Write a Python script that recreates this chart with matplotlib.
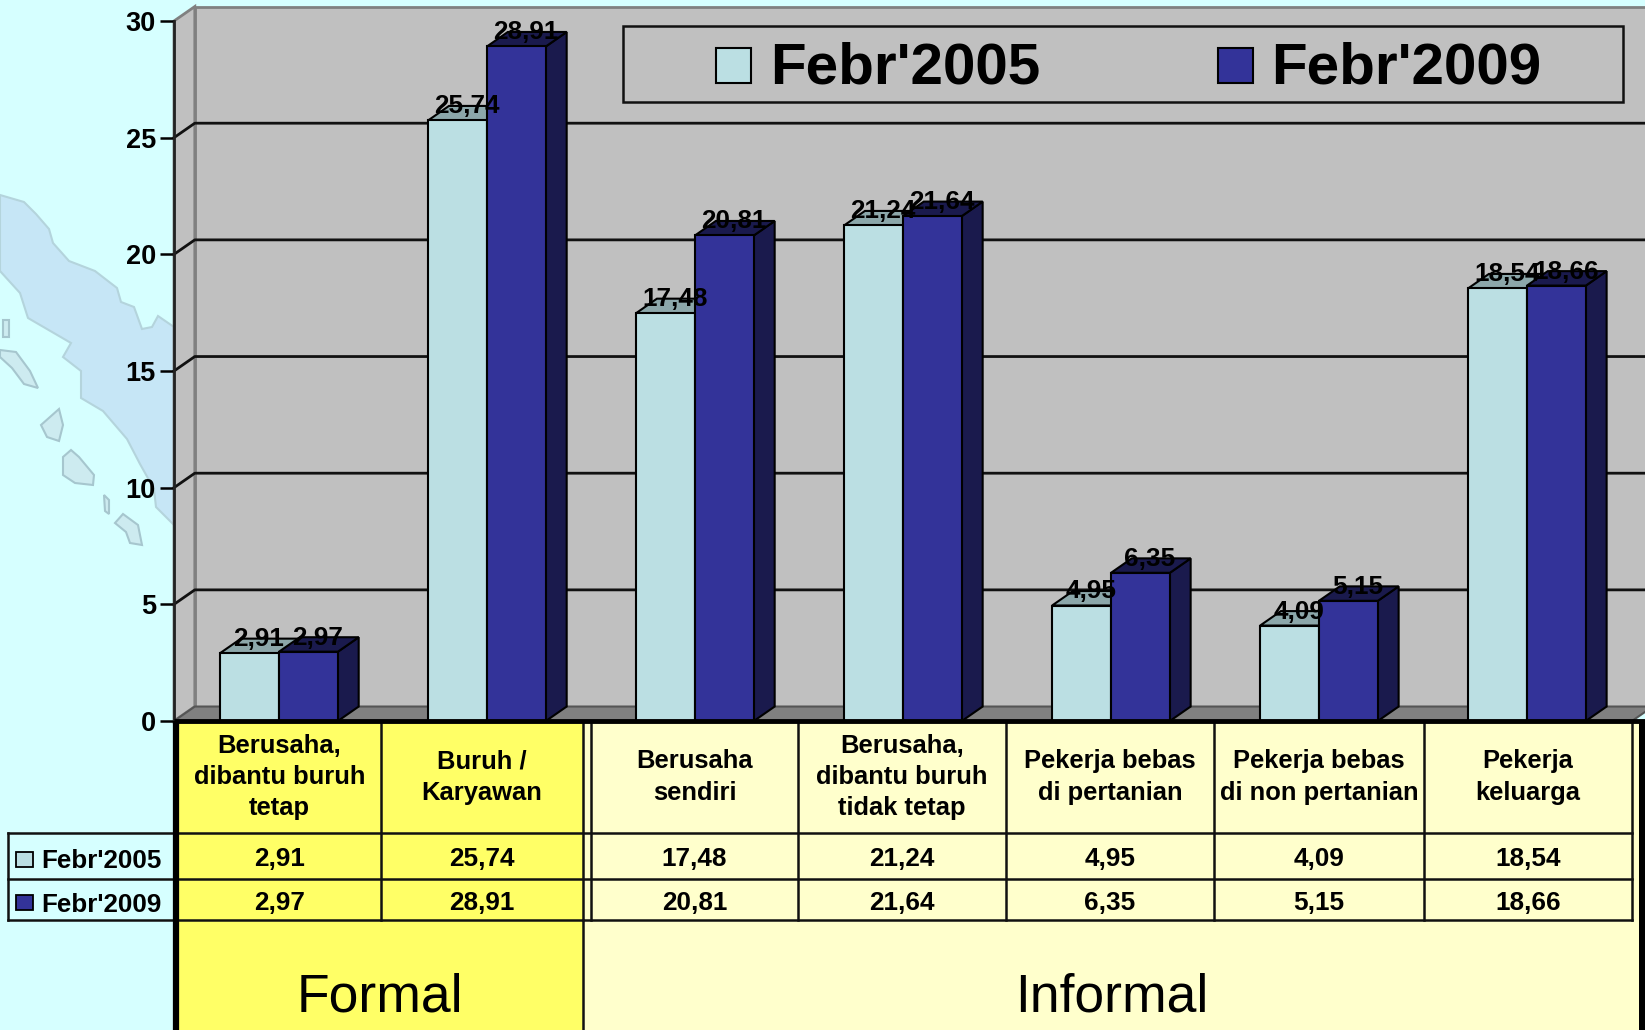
import matplotlib
matplotlib.use('Agg')
from matplotlib import pyplot as plt
from matplotlib.patches import Polygon, Rectangle

plt.rcParams['font.family'] = ['Liberation Sans', 'DejaVu Sans']

W, H = 1645, 1030

categories = ['Berusaha,\ndibantu buruh\ntetap', 'Buruh /\nKaryawan', 'Berusaha\nsendiri',
              'Berusaha,\ndibantu buruh\ntidak tetap', 'Pekerja bebas\ndi pertanian',
              'Pekerja bebas\ndi non pertanian', 'Pekerja\nkeluarga']
feb2005 = [2.91, 25.74, 17.48, 21.24, 4.95, 4.09, 18.54]
feb2009 = [2.97, 28.91, 20.81, 21.64, 6.35, 5.15, 18.66]
labels_2005 = ['2,91', '25,74', '17,48', '21,24', '4,95', '4,09', '18,54']
labels_2009 = ['2,97', '28,91', '20,81', '21,64', '6,35', '5,15', '18,66']
series_names = ["Febr'2005", "Febr'2009"]
yticks = [0, 5, 10, 15, 20, 25, 30]

# map shapes behind the chart, in pixels
sumatra = [(0, 195), (24, 202), (36, 214), (49, 229), (53, 243), (69, 261), (95, 271), (117, 288),
           (121, 302), (134, 307), (142, 329), (152, 327), (158, 316), (174, 327), (174, 525),
           (156, 507), (154, 489), (140, 464), (127, 439), (103, 411), (81, 398), (81, 371),
           (63, 357), (71, 343), (28, 318), (20, 293), (0, 271)]
islands = [[(3, 320), (9, 320), (9, 337), (3, 337)],
           [(0, 350), (16, 352), (30, 371), (38, 388), (24, 384), (12, 368), (0, 357)],
           [(59, 409), (63, 425), (59, 441), (47, 437), (41, 425)],
           [(71, 450), (79, 457), (94, 475), (93, 485), (75, 483), (63, 475), (63, 457)],
           [(104, 495), (109, 500), (109, 514), (105, 511)],
           [(123, 514), (138, 525), (142, 545), (130, 543), (126, 532), (115, 523)]]

C_BG = '#D6FFFF'
C_WALL = '#C0C0C0'
C_FLOOR = '#808080'
C_LIGHT = '#BBDFE3'
C_LIGHT_TOP = '#8CA7AA'
C_DARK = '#333399'
C_DARK_SIDE = '#1A1A4D'
C_YELLOW = '#FFFF66'
C_IVORY = '#FFFFCC'

fig = plt.figure(figsize=(W / 100, H / 100), dpi=100, facecolor=C_BG)


def pixel_axes(z):
    a = fig.add_axes([0, 0, 1, 1], zorder=z)
    a.set_xlim(0, W)
    a.set_ylim(H, 0)
    a.axis('off')
    return a


# background map
bg = pixel_axes(0)
bg.add_patch(Polygon(sumatra, fc='#C6E6F6', ec='#B4D4DC', lw=1.5))
for isl in islands:
    bg.add_patch(Polygon(isl, fc='#CDEBF0', ec='#A6C6CE', lw=1.5))

# chart area: x runs over categories, y over percent
x_left, x_right, y_top, y_bottom = 174, 1632, 21, 721
ax = fig.add_axes([x_left / W, 1 - y_bottom / H, (x_right - x_left) / W, (y_bottom - y_top) / H], zorder=1)
ax.patch.set_alpha(0)
ax.set_xlim(-0.505, 6.505)
ax.set_ylim(0, 30)
dx, dy = 0.1, 0.62
x0, x1 = ax.get_xlim()

# back wall, side wall and floor
ax.add_patch(Polygon([(x0 + dx, dy), (x0 + dx, 30 + dy), (x1 + 0.2, 30 + dy), (x1 + 0.2, dy)],
                     fc=C_WALL, ec='#808080', lw=2, clip_on=False, zorder=1))
ax.add_patch(Polygon([(x0, 0), (x0, 30), (x0 + dx, 30 + dy), (x0 + dx, dy)],
                     fc=C_WALL, ec='#808080', lw=2, clip_on=False, zorder=1))
ax.add_patch(Polygon([(x0, 0), (x0 + dx, dy), (x1 + dx, dy), (x1, 0)],
                     fc=C_FLOOR, ec='#555555', lw=1.5, clip_on=False, zorder=1.5))
for v in yticks[1:-1]:
    ax.plot([x0, x0 + dx, x1 + 0.2], [v, v + dy, v + dy], color='#111111', lw=2, clip_on=False, zorder=2)

bar_w = 0.283
for i in range(len(categories)):
    for offset, v, front, top, side in [(-bar_w / 2, feb2005[i], C_LIGHT, C_LIGHT_TOP, C_LIGHT_TOP),
                                        (bar_w / 2, feb2009[i], C_DARK, C_DARK_SIDE, C_DARK_SIDE)]:
        xc = i + offset
        xl, xr = xc - bar_w / 2, xc + bar_w / 2
        ax.add_patch(Polygon([(xr, 0), (xr, v), (xr + dx, v + dy), (xr + dx, dy)],
                             fc=side, ec='black', lw=1.5, zorder=3, clip_on=False))
        ax.add_patch(Polygon([(xl, v), (xl + dx, v + dy), (xr + dx, v + dy), (xr, v)],
                             fc=top, ec='black', lw=1.5, zorder=3, clip_on=False))
        ax.bar(xc, v, bar_w, color=front, edgecolor='black', lw=1.5, zorder=3)

# value labels sit on the top face of each bar
for i in range(len(categories)):
    for offset, v, s in [(-bar_w / 2, feb2005[i], labels_2005[i]), (bar_w / 2, feb2009[i], labels_2009[i])]:
        ax.text(i + offset + dx / 2 - 0.005, v + dy - 0.02, s, ha='center', va='center', fontsize=18.8,
                fontweight='bold', color='black', zorder=5, clip_on=False)

ax.set_xticks([])
ax.set_yticks(yticks)
ax.tick_params(axis='y', length=10, width=1.8, color='black', pad=3, labelsize=19.5)
for t in ax.get_yticklabels():
    t.set_fontweight('bold')
for name, sp in ax.spines.items():
    sp.set_visible(name == 'left')
ax.spines['left'].set_color('#222222')
ax.spines['left'].set_linewidth(2)

# overlay: legend box and data table, in pixels
top = pixel_axes(2)
top.patch.set_alpha(0)

top.add_patch(Rectangle((623, 26), 1000, 76, fc=C_WALL, ec='#111111', lw=1.8))
for kx, tx, col, name in [(716, 770, C_LIGHT, series_names[0]), (1218, 1271, C_DARK, series_names[1])]:
    top.add_patch(Rectangle((kx, 48), 35, 35, fc=col, ec='black', lw=1.5))
    top.text(tx, 69, name, ha='left', va='center', fontsize=42, fontweight='bold')

col_edges = [178, 381, 583, 591, 798, 1006, 1214, 1424, 1632]
row_y = [721, 833, 879, 920]

top.add_patch(Rectangle((178, 721), 405, H - 721, fc=C_YELLOW, ec='none'))
top.add_patch(Rectangle((583, 721), 1060, H - 721, fc=C_IVORY, ec='none'))

for y in row_y[1:]:
    top.plot([8, 1632], [y, y], color='#111111', lw=1.8)
top.plot([8, 8], [833, 920], color='#111111', lw=1.8)
for x in col_edges[1:]:
    top.plot([x, x], [721, 920], color='#111111', lw=1.8)
top.plot([583, 583], [920, H], color='#111111', lw=1.8)

# heavy frame around the table
top.plot([176, 176], [721, H], color='black', lw=4.5, solid_capstyle='butt')
top.plot([174, 1645], [721, 721], color='black', lw=3.5, solid_capstyle='butt')
top.fill_between([1639, 1645], 721, H, color='black', lw=0)

centres = [(col_edges[0] + col_edges[1]) / 2, (col_edges[1] + col_edges[2]) / 2] + \
          [(col_edges[j] + col_edges[j + 1]) / 2 for j in range(3, 8)]
for i, c in enumerate(centres):
    top.text(c, 777, categories[i], ha='center', va='center', fontsize=18.4, fontweight='bold', linespacing=1.38)
    top.text(c, 859, labels_2005[i], ha='center', va='center', fontsize=18.8, fontweight='bold')
    top.text(c, 903, labels_2009[i], ha='center', va='center', fontsize=18.8, fontweight='bold')

for ky, col, name in [(852, C_LIGHT, series_names[0]), (895, C_DARK, series_names[1])]:
    top.add_patch(Rectangle((16, ky), 17, 15, fc=col, ec='black', lw=1.3))
    top.text(41.5, ky + 9.5, name, ha='left', va='center', fontsize=18.7, fontweight='bold')

top.text(380, 997, 'Formal', ha='center', va='center', fontsize=38.5)
top.text(1112, 997, 'Informal', ha='center', va='center', fontsize=38.5)

plt.savefig('out.png', dpi=100, facecolor=C_BG)
